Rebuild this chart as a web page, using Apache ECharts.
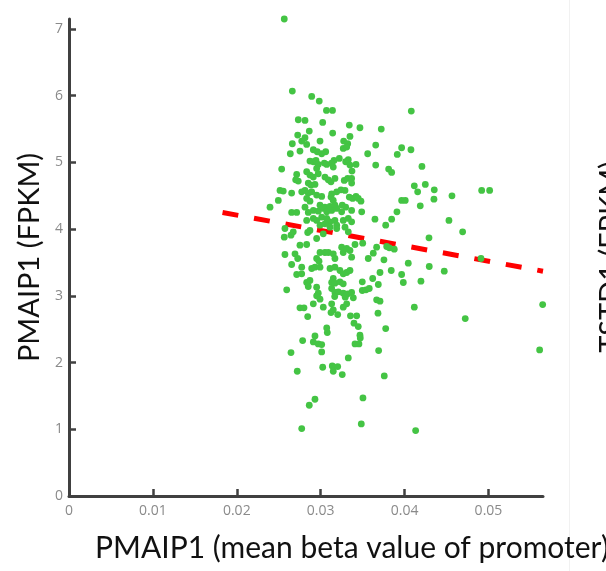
<!DOCTYPE html>
<html>
<head>
<meta charset="utf-8">
<script src="https://cdn.jsdelivr.net/npm/echarts@6/dist/echarts.min.js"></script>
<style>
  html, body { margin: 0; padding: 0; background: #ffffff; }
  #chart { width: 606px; height: 571px; }
</style>
</head>
<body>
<div id="chart"></div>
<script>
// x: PMAIP1 mean beta value of promoter, y: PMAIP1 FPKM
const samplePoints = [
  [0.02566,7.15],[0.02662,6.07],[0.02893,5.99],[0.02983,5.92],[0.03069,5.78],[0.03141,5.78],[0.04080,5.77],
  [0.02733,5.64],[0.02813,5.63],[0.03024,5.60],[0.03341,5.56],[0.02726,5.41],[0.02813,5.37],[0.02864,5.47],
  [0.03143,5.44],[0.02662,5.28],[0.02774,5.32],[0.02833,5.27],[0.02992,5.32],[0.03274,5.32],[0.03322,5.28],
  [0.02638,5.13],[0.02753,5.17],[0.02912,5.19],[0.02959,5.16],[0.03012,5.13],[0.03060,5.16],[0.03269,5.21],
  [0.03310,5.23],[0.03159,5.03],[0.03222,5.06],[0.03298,5.01],[0.03329,5.04],[0.02872,5.02],[0.02912,5.01],
  [0.02944,5.03],[0.02971,4.97],[0.03043,4.99],[0.03072,4.97],[0.03131,4.99],[0.03150,4.93],[0.02535,4.90],
  [0.02952,4.91],[0.02971,4.83],[0.02833,4.86],[0.02872,4.81],[0.02912,4.78],[0.02714,4.82],[0.02702,4.74],
  [0.02733,4.72],[0.03051,4.78],[0.03091,4.74],[0.03170,4.76],[0.03123,4.71],[0.03281,4.73],[0.03322,4.76],
  [0.03349,4.96],[0.03373,4.87],[0.03369,4.76],[0.03369,4.69],[0.02852,4.69],[0.02884,4.66],[0.02932,4.67],
  [0.02774,4.56],[0.02813,4.58],[0.02852,4.54],[0.02893,4.56],[0.02515,4.58],[0.02554,4.57],[0.02654,4.54],
  [0.02952,4.51],[0.03012,4.49],[0.03131,4.53],[0.03191,4.56],[0.03242,4.59],[0.03290,4.58],[0.03341,4.48],
  [0.03381,4.46],[0.02495,4.43],[0.02833,4.46],[0.02872,4.42],[0.03123,4.48],[0.03150,4.43],[0.03349,5.39],
  [0.02396,4.33],[0.02992,4.36],[0.03051,4.33],[0.03111,4.34],[0.03170,4.36],[0.03257,4.36],[0.03298,4.33],
  [0.02813,4.33],[0.02654,4.25],[0.02714,4.25],[0.02852,4.25],[0.02912,4.28],[0.02971,4.27],[0.03031,4.31],
  [0.03072,4.26],[0.03131,4.28],[0.03191,4.31],[0.03250,4.26],[0.03369,4.28],[0.02833,4.13],[0.02912,4.16],
  [0.02952,4.13],[0.03012,4.18],[0.03072,4.16],[0.03111,4.11],[0.03170,4.13],[0.03269,4.13],[0.03329,4.16],
  [0.03369,4.11],[0.02992,4.06],[0.03051,4.08],[0.03111,4.03],[0.03191,4.06],[0.02574,4.01],[0.02566,3.88],
  [0.02646,3.91],[0.02673,3.96],[0.02845,3.95],[0.02872,3.98],[0.02952,3.86],[0.03031,3.93],[0.03191,4.01],
  [0.03290,4.03],[0.03329,3.96],[0.02753,3.76],[0.02833,3.77],[0.02992,3.65],[0.03051,3.65],[0.03091,3.65],
  [0.03150,3.63],[0.03250,3.73],[0.03269,3.65],[0.03310,3.71],[0.03349,3.68],[0.03369,3.58],[0.02574,3.62],
  [0.02694,3.63],[0.02726,3.56],[0.02952,3.56],[0.02980,3.52],[0.03170,3.56],[0.02654,3.47],[0.02774,3.43],
  [0.02893,3.41],[0.02932,3.43],[0.02992,3.43],[0.03111,3.41],[0.03170,3.43],[0.03230,3.38],[0.03269,3.33],
  [0.03310,3.35],[0.03349,3.38],[0.02714,3.32],[0.02774,3.33],[0.02833,3.20],[0.02872,3.23],[0.03150,3.26],
  [0.03131,3.20],[0.03170,3.19],[0.03230,3.21],[0.03269,3.18],[0.02595,3.09],[0.02852,3.14],[0.02952,3.13],
  [0.02971,3.04],[0.03131,3.11],[0.03170,3.05],[0.03210,3.06],[0.03269,3.04],[0.03322,3.03],[0.03369,3.05],
  [0.02952,3.00],[0.02992,2.95],[0.03167,2.99],[0.03293,2.98],[0.03389,2.97],[0.02753,2.82],[0.02801,2.82],
  [0.02912,2.88],[0.03031,2.83],[0.03131,2.88],[0.03150,2.79],[0.03269,2.83],[0.03310,2.88],
  [0.03123,2.75],[0.03203,2.72],[0.03355,2.70],[0.03397,2.59],[0.02845,2.69],[0.03072,2.52],[0.03079,2.45],
  [0.02932,2.40],[0.02912,2.31],[0.02971,2.28],[0.03012,2.27],[0.02785,2.33],[0.02646,2.15],[0.03012,2.16],
  [0.03329,2.07],[0.02721,1.87],[0.03024,1.93],[0.03138,1.95],[0.03150,1.87],[0.03203,1.94],[0.03257,1.82],
  [0.02932,1.45],[0.02864,1.36],[0.02774,1.01],[0.03504,1.47],[0.03484,1.08],[0.04132,0.98],
  [0.03468,2.41],[0.03472,2.37],[0.03409,2.28],[0.03456,2.28],
  [0.03468,5.52],[0.03722,5.50],[0.03656,5.26],[0.03965,5.22],[0.04076,5.19],[0.03913,5.12],[0.03560,5.13],
  [0.03421,4.97],[0.03656,4.96],[0.03810,4.90],[0.03846,4.85],[0.04207,4.94],[0.04116,4.65],[0.04247,4.67],
  [0.04156,4.56],[0.04354,4.59],[0.04350,4.45],[0.04565,4.50],[0.04919,4.58],[0.05014,4.58],[0.03421,4.49],
  [0.03448,4.46],[0.03480,4.42],[0.03965,4.43],[0.04008,4.43],[0.04187,4.35],[0.03489,4.26],[0.03909,4.26],
  [0.03846,4.15],[0.03775,4.06],[0.03647,4.15],[0.04529,4.13],[0.04692,3.96],[0.04291,3.87],[0.03409,3.77],
  [0.03501,3.79],[0.03667,3.73],[0.03787,3.74],[0.03818,3.72],[0.03877,3.70],[0.03627,3.64],[0.04911,3.56],
  [0.03567,3.56],[0.03754,3.54],[0.04044,3.49],[0.04294,3.44],[0.04473,3.37],[0.03707,3.35],[0.03841,3.38],
  [0.03965,3.32],[0.03620,3.26],[0.03496,3.21],[0.03687,3.17],[0.03985,3.20],[0.04195,3.22],[0.03496,3.08],
  [0.03540,3.09],[0.03579,3.11],[0.03667,2.94],[0.03707,2.92],[0.04116,2.83],[0.04723,2.66],[0.03429,2.70],
  [0.03683,2.74],[0.03448,2.54],[0.03775,2.51],[0.03691,2.18],[0.05610,2.19],[0.05646,2.87],[0.03758,1.80]
];

// regression line end points
const trendX = [0.0183, 0.0565];
const trendY = [4.25, 3.37];

const xTickValues = [0, 0.01, 0.02, 0.03, 0.04, 0.05];
const yTickValues = [0, 1, 2, 3, 4, 5, 6, 7];

const xTitle = 'PMAIP1 (mean beta value of promoter)';
const yTitle = 'PMAIP1 (FPKM)';
const neighbourTitle = 'TSTD1 (FPKM)';

const chart = echarts.init(document.getElementById('chart'), null, { renderer: 'canvas' });

const tickLabelStyle = { color: '#8a8a8a', fontFamily: 'Open Sans', fontSize: 14 };

chart.setOption({
  backgroundColor: '#ffffff',
  animation: false,
  grid: { left: 69, right: 63, top: 19, bottom: 75, containLabel: false, outerBoundsMode: 'none' },
  xAxis: {
    type: 'value',
    min: 0,
    max: 0.0565,
    name: xTitle,
    nameLocation: 'middle',
    nameGap: 37,
    nameTextStyle: { fontFamily: 'Lato', fontSize: 30, color: '#111', padding: [0, 0, 0, 92] },
    axisLine: { show: true, onZero: false, lineStyle: { color: '#404040', width: 3 } },
    axisTick: { show: true, inside: true, length: 7, customValues: xTickValues, lineStyle: { color: '#404040', width: 2.5 } },
    axisLabel: { show: true, customValues: xTickValues, margin: 8, ...tickLabelStyle },
    splitLine: { show: false }
  },
  yAxis: {
    type: 'value',
    min: 0,
    max: 7.15,
    name: yTitle,
    nameLocation: 'middle',
    nameGap: 22,
    nameTextStyle: { fontFamily: 'Lato', fontSize: 29, color: '#111' },
    axisLine: { show: true, onZero: false, lineStyle: { color: '#404040', width: 3 } },
    axisTick: { show: true, inside: true, length: 7, customValues: yTickValues, lineStyle: { color: '#404040', width: 2.5 } },
    axisLabel: { show: true, customValues: yTickValues, margin: 6, ...tickLabelStyle },
    splitLine: { show: false }
  },
  graphic: [
    { type: 'line', shape: { x1: 569.5, y1: 0, x2: 569.5, y2: 571 }, style: { stroke: '#f1f1f1', lineWidth: 1 }, silent: true },
    { type: 'text', x: 596, y: 257, rotation: Math.PI / 2,
      style: { text: neighbourTitle, fontFamily: 'Lato', fontSize: 29, fill: '#111', align: 'center', verticalAlign: 'top' }, silent: true }
  ],
  series: [
    {
      type: 'line',
      data: trendX.map((x, i) => [x, trendY[i]]),
      symbol: 'none',
      z: 2,
      lineStyle: { color: '#ff0000', width: 5, type: [16, 16], cap: 'butt' }
    },
    {
      type: 'scatter',
      data: samplePoints,
      symbol: 'circle',
      symbolSize: 6.8,
      z: 3,
      itemStyle: { color: '#44c444', opacity: 1 }
    }
  ]
});
</script>
</body>
</html>
